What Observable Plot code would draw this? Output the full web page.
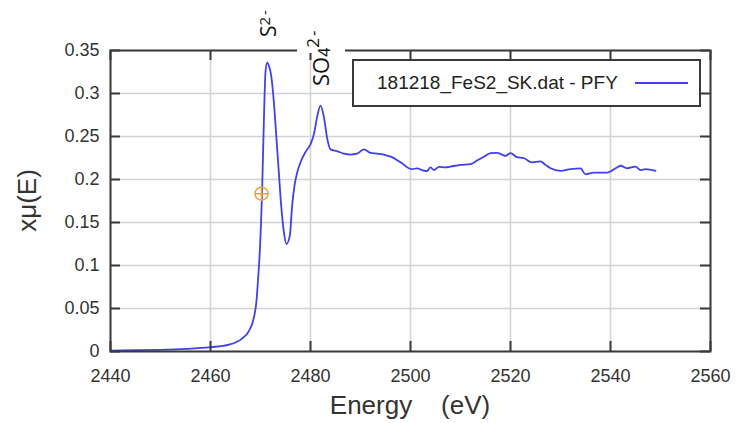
<!DOCTYPE html>
<html><head><meta charset="utf-8">
<script src="https://cdn.jsdelivr.net/npm/d3@7"></script>
<script src="https://cdn.jsdelivr.net/npm/@observablehq/plot@0.6"></script>
<style>
body{margin:0;background:#fff;}
#chart svg{display:block;}
</style>
</head><body><div id="chart"></div>
<script>
// ---- data ----
const energy = [2440, 2445, 2450, 2455, 2460, 2463.7, 2466.3, 2467.7, 2468.7, 2469.2, 2469.5, 2469.85, 2470.33, 2470.67, 2471, 2471.33, 2471.7, 2472.13, 2472.67, 2473.2, 2473.67, 2474.13, 2474.67, 2475.2, 2475.87, 2476.33, 2476.8, 2477.33, 2478, 2479, 2480, 2480.7, 2481.3, 2482, 2482.7, 2483.3, 2484, 2485.3, 2486.7, 2488, 2489.3, 2490.7, 2492, 2493.3, 2494.6, 2496.3, 2498, 2500.3, 2501.3, 2502.3, 2503.3, 2504, 2504.7, 2505.7, 2507, 2508, 2510, 2512, 2513.3, 2514.7, 2516, 2517.3, 2518.3, 2519, 2520, 2521.3, 2522.7, 2524.3, 2526, 2527, 2528, 2530, 2532, 2534, 2535, 2536.7, 2539.3, 2541.3, 2542, 2543.3, 2545, 2546, 2547, 2549];
const mu = [0.001, 0.0015, 0.002, 0.003, 0.005, 0.008, 0.015, 0.024, 0.04, 0.059, 0.083, 0.115, 0.189, 0.267, 0.325, 0.336, 0.332, 0.321, 0.29, 0.247, 0.208, 0.17, 0.139, 0.125, 0.135, 0.17, 0.193, 0.208, 0.22, 0.232, 0.241, 0.253, 0.272, 0.286, 0.272, 0.249, 0.235, 0.233, 0.230, 0.229, 0.230, 0.235, 0.231, 0.230, 0.229, 0.226, 0.220, 0.212, 0.213, 0.211, 0.2097, 0.214, 0.211, 0.2147, 0.214, 0.215, 0.217, 0.218, 0.222, 0.2264, 0.2306, 0.231, 0.229, 0.2275, 0.2306, 0.226, 0.2247, 0.220, 0.221, 0.217, 0.213, 0.210, 0.212, 0.213, 0.206, 0.208, 0.208, 0.214, 0.216, 0.213, 0.215, 0.211, 0.212, 0.210];
const markerEnergy = [2470.2];
const markerMu = [0.1835];
const xTicks = [2440, 2460, 2480, 2500, 2520, 2540, 2560];
const yTicks = [0, 0.05, 0.1, 0.15, 0.2, 0.25, 0.3, 0.35];
const yTickLabels = ["0", "0.05", "0.1", "0.15", "0.2", "0.25", "0.3", "0.35"];
const seriesName = "181218_FeS2_SK.dat - PFY";
const xTitle = "Energy    (eV)";
const yTitle = "xμ(E)";
const peakEnergies = [2472.2, 2482];

// ---- build ----
const data = energy.map((e, i) => ({e, m: mu[i]}));
const markerData = markerEnergy.map((e, i) => ({e, m: markerMu[i]}));
const circlePlus = {
  draw(ctx, size) {
    const r = Math.sqrt(size / Math.PI);
    ctx.moveTo(r, 0); ctx.arc(0, 0, r, 0, 2 * Math.PI);
    ctx.moveTo(-r, 0); ctx.lineTo(r, 0);
    ctx.moveTo(0, -r); ctx.lineTo(0, r);
  }
};
const axisColor = "#3a3a3a";
const lineColor = "#4040ee";
const W = 736, H = 423, mL = 110, mR = 26, mT = 50, mB = 72;
const innerW = W - mL - mR, innerH = H - mT - mB;
const tickLen = 10;

const plot = Plot.plot({
  width: W, height: H,
  marginLeft: mL, marginRight: mR, marginTop: mT, marginBottom: mB,
  style: {fontFamily: "'Liberation Sans', Arial, sans-serif", fontSize: "18px", color: "#333", background: "white", overflow: "visible"},
  x: {domain: [2440, 2560], axis: null},
  y: {domain: [0, 0.35], axis: null},
  marks: [
    Plot.gridX(xTicks, {stroke: "#d2d2d2", strokeOpacity: 1, strokeWidth: 1.6}),
    Plot.gridY(yTicks, {stroke: "#d2d2d2", strokeOpacity: 1, strokeWidth: 1.6}),
    Plot.line(data, {x: "e", y: "m", stroke: lineColor, strokeWidth: 1.8, curve: "monotone-x"}),
    Plot.dot(markerData, {x: "e", y: "m", r: 6.5, symbol: circlePlus, stroke: "#f0a035", strokeWidth: 1.5, fill: "none"}),
    Plot.frame({stroke: axisColor, strokeWidth: 2}),
    Plot.ruleX(xTicks, {stroke: axisColor, strokeWidth: 2, insetTop: innerH - tickLen}),
    Plot.ruleX(xTicks, {stroke: axisColor, strokeWidth: 2, insetBottom: innerH - tickLen}),
    Plot.ruleY(yTicks, {stroke: axisColor, strokeWidth: 2, insetRight: innerW - tickLen}),
    Plot.ruleY(yTicks, {stroke: axisColor, strokeWidth: 2, insetLeft: innerW - tickLen}),
    Plot.axisX(xTicks, {anchor: "bottom", tickSize: 0, tickPadding: 18, fontSize: 18, color: "#333", label: null, tickFormat: d => String(d)}),
    Plot.axisY(yTicks, {anchor: "left", tickSize: 0, tickPadding: 11, fontSize: 18, color: "#333", label: null, tickFormat: (d, i) => yTickLabels[i]})
  ]
});

const xs = plot.scale("x");
const svg = d3.select(plot);
const font = "'Liberation Sans', Arial, sans-serif";

// axis titles
svg.append("text").attr("x", (mL + W - mR) / 2).attr("y", 414)
  .attr("text-anchor", "middle").attr("font-family", font).attr("font-size", 26)
  .attr("fill", "#333").style("white-space", "pre").text(xTitle);
svg.append("text").attr("transform", `translate(36,${(mT + H - mB) / 2}) rotate(-90)`)
  .attr("text-anchor", "middle").attr("font-family", font).attr("font-size", 26)
  .attr("fill", "#333").text(yTitle);

// peak annotations
const px1 = xs.apply(peakEnergies[0]);
const t1 = svg.append("text").attr("transform", `translate(${px1 + 5},37) rotate(-90)`)
  .attr("text-anchor", "start")
  .attr("font-family", "'Open Sans', sans-serif").attr("font-size", 21).attr("fill", "#111");
t1.append("tspan").text("S");
t1.append("tspan").attr("font-size", 15).attr("dy", -6).attr("letter-spacing", 2).text("2-");

const px2 = xs.apply(peakEnergies[1]);
svg.append("rect").attr("x", px2 - 23).attr("y", 12).attr("width", 48).attr("height", 41).attr("fill", "white");
const t2 = svg.append("text").attr("transform", `translate(${px2 + 9},86) rotate(-90)`)
  .attr("text-anchor", "start")
  .attr("font-family", "'Open Sans', sans-serif").attr("font-size", 22).attr("fill", "#111");
t2.append("tspan").text("SO");
t2.append("tspan").attr("font-size", 16).attr("dy", 1).text("4");
t2.append("tspan").attr("font-size", 17).attr("dy", -11).attr("letter-spacing", 2).text("2-");

// legend
const lgR = W - mR - 10, lgL = 353, lgT = mT + 10, lgB = 106;
svg.append("rect").attr("x", lgL).attr("y", lgT).attr("width", lgR - lgL).attr("height", lgB - lgT)
  .attr("fill", "white").attr("stroke", axisColor).attr("stroke-width", 2);
svg.append("text").attr("x", 377).attr("y", 89).attr("text-anchor", "start")
  .attr("font-family", font).attr("font-size", 19)
  .attr("fill", "#222").text(seriesName);
svg.append("line").attr("x1", 635).attr("x2", 688).attr("y1", 83).attr("y2", 83)
  .attr("stroke", lineColor).attr("stroke-width", 2);

document.getElementById("chart").appendChild(plot);
</script>
</body></html>
